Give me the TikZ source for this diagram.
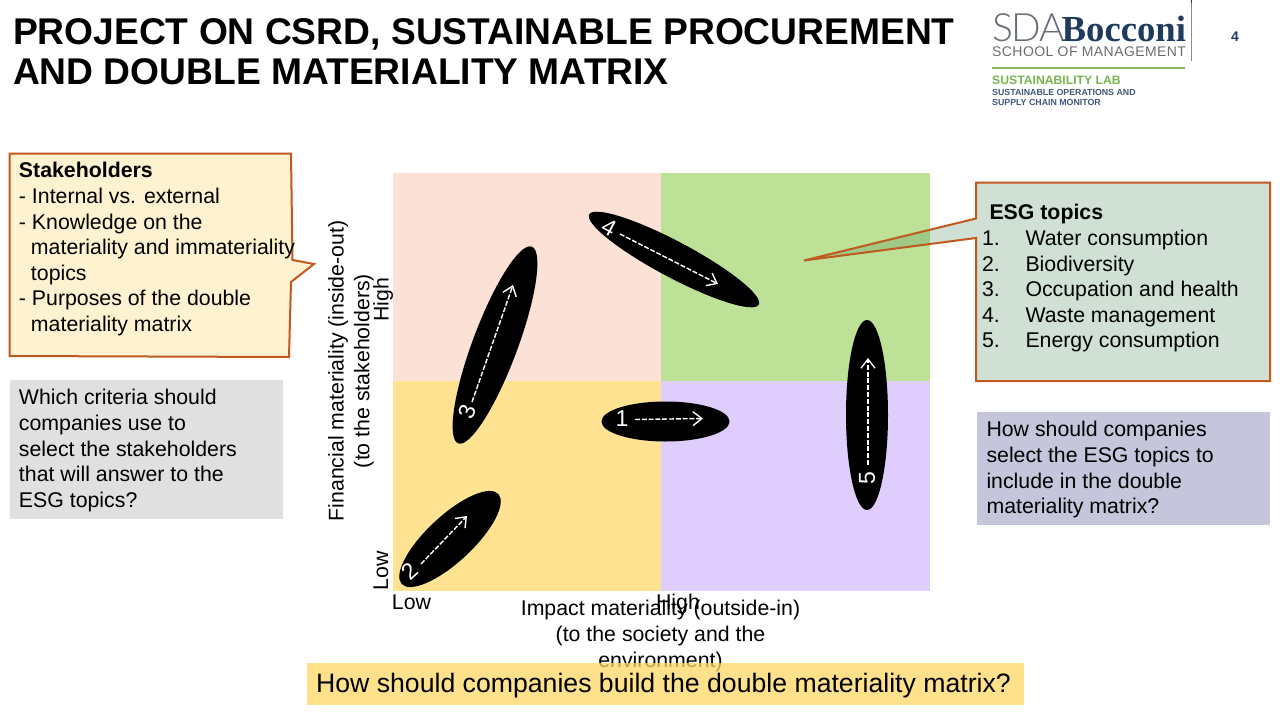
\documentclass[tikz,border=0pt]{standalone}
\usepackage{fontspec}
\setmainfont{Liberation Sans}
\newfontfamily\logoserif{Liberation Serif}
\newfontfamily\logolight[UprightFont=* Light]{Lato}
\usetikzlibrary{shapes.geometric,arrows.meta}
\definecolor{rust}{HTML}{C0581F}
\definecolor{navy}{HTML}{1F3A5F}
\newcommand{\fs}[2]{\fontsize{#1}{#2}\selectfont}
\tikzset{
  x=1pt,y=-1pt,
  body/.style={inner sep=0pt,outer sep=0pt,align=left,anchor=north west,text=black,font=\fs{21.3}{25.6}},
  axis/.style={inner sep=0pt,outer sep=0pt,align=center,text=black,font=\fs{21.3}{25.6}},
  blob/.style={ellipse,fill=black,draw=none,inner sep=0pt,outer sep=0pt},
  num/.style={inner sep=0pt,outer sep=0pt,text=white,font=\fs{23}{24}},
  flow/.style={draw=white,line width=1.4pt,dash pattern=on 5pt off 1.8pt,-{Straight Barb[length=9pt,width=14pt,line width=1.4pt]}},
  callout/.style={draw=rust,line width=2pt,line join=miter},
  cell/.style={draw=none},
  qbox/.style={draw=none},
}
\newcommand{\esgnum}[2]{\makebox[43.5pt][l]{#1}#2}
\begin{document}
\begin{tikzpicture}
\useasboundingbox (0,0) rectangle (1280,720);
% title
\node[inner sep=0pt,outer sep=0pt,anchor=north west,align=left,font=\bfseries\fs{37.2}{40}] (title) at (13,18.5) {PROJECT ON CSRD, SUSTAINABLE PROCUREMENT\\AND DOUBLE MATERIALITY MATRIX};
% logo
\node[inner sep=0pt,anchor=base west,text=gray!75!navy,font=\logolight\fs{39}{37}] (sda) at (992,41) {\addfontfeature{LetterSpace=-3}SDA};
\node[inner sep=0pt,anchor=base west,text=navy,font=\logoserif\bfseries\fs{36.7}{37}] (boc) at (1061.5,41) {Bocconi};
\node[inner sep=0pt,anchor=base west,text=gray!85!black,font=\fs{14}{14}] (som) at (992,56) {\addfontfeature{LetterSpace=3}SCHOOL OF MANAGEMENT};
\fill[fill=black!60!navy!50] (1190.5,0) rectangle (1191.5,61);
\fill[fill=navy] (1190.5,0) rectangle (1191.5,3);
\fill[fill={rgb,255:red,134;green,186;blue,90}] (992,66.5) rectangle (1185,68.5);
\node[inner sep=0pt,anchor=base west,text={rgb,255:red,120;green,180;blue,80},font=\bfseries\fs{12.2}{12}] (lab) at (992,84) {SUSTAINABILITY LAB};
\node[inner sep=0pt,anchor=base west,text=navy!85,font=\bfseries\fs{8.8}{9}] (l1) at (992,95) {SUSTAINABLE OPERATIONS AND};
\node[inner sep=0pt,anchor=base west,text=navy!85,font=\bfseries\fs{8.8}{9}] (l2) at (992,105) {SUPPLY CHAIN MONITOR};
\node[inner sep=0pt,text=navy,font=\bfseries\fs{14}{14}] (page) at (1235,37) {4};
% matrix
\fill[cell,fill={rgb,255:red,251;green,225;blue,214}] (393,173) rectangle (661,381);
\fill[cell,fill={rgb,255:red,189;green,226;blue,151}] (661,173) rectangle (930,381);
\fill[cell,fill={rgb,255:red,255;green,226;blue,146}] (393,381) rectangle (661,591);
\fill[cell,fill={rgb,255:red,223;green,206;blue,253}] (661,381) rectangle (930,591);
% axis labels
\node[axis,rotate=90] (ylab) at (351,371) {Financial materiality (inside-out)\\(to the stakeholders)};
\node[axis,rotate=90] (yhi) at (383,300) {High};
\node[axis,rotate=90] (ylo) at (381,571) {Low};
\node[axis] (xlo) at (411.5,602.5) {Low};
\node[axis] (xhi) at (678,603.5) {High};
\node[axis] (xlab) at (660.5,636) {Impact materiality (outside-in)\\(to the society and the\\environment)};
% blobs
\node[blob,minimum width=128pt,minimum height=40pt] (e1) at (665.5,421.5) {};
\node[blob,minimum width=132pt,minimum height=46pt,rotate=43] (e2) at (450,539) {};
\node[blob,minimum width=210pt,minimum height=45pt,rotate=69.5] (e3) at (495,345) {};
\node[blob,minimum width=192pt,minimum height=36pt,rotate=-28] (e4) at (674,259.5) {};
\node[blob,minimum width=190pt,minimum height=42pt,rotate=90] (e5) at (867,415) {};
\node[num] (n1) at (622,418.5) {1};
\node[num,rotate=43] (n2) at (409.5,571) {2};
\node[num,rotate=69.5] (n3) at (467,412) {3};
\node[num,rotate=-28] (n4) at (609,228) {4};
\node[num,rotate=90] (n5) at (867,478) {5};
\coordinate (a1s) at (635,419.5); \coordinate (a1e) at (703,418.5);
\coordinate (a2s) at (421,564); \coordinate (a2e) at (467,516);
\coordinate (a3s) at (472,402); \coordinate (a3e) at (513,285);
\coordinate (a4s) at (620,234); \coordinate (a4e) at (718,284);
\coordinate (a5s) at (868,465); \coordinate (a5e) at (868,358);
\draw[flow] (a1s) -- (a1e);
\draw[flow] (a2s) -- (a2e);
\draw[flow] (a3s) -- (a3e);
\draw[flow] (a4s) -- (a4e);
\draw[flow] (a5s) -- (a5e);
% stakeholders callout
\filldraw[callout,fill={rgb,255:red,255;green,242;blue,208}] (9.5,153.5) -- (291,153.5) -- (292.5,260) -- (314,264) -- (291,282) -- (289,357) -- (9.5,356) -- cycle;
\node[body] (stake) at (19,162.5) {\textbf{Stakeholders}\\- Internal vs. external\\- Knowledge on the\\\hspace*{12pt}materiality and immateriality\\\hspace*{12pt}topics\\- Purposes of the double\\\hspace*{12pt}materiality matrix};
% esg callout
\fill[fill={rgb,255:red,73;green,135;blue,88},fill opacity=.26] (976,182.5) -- (1270,182.5) -- (1270,381) -- (976,381) -- (976,238) -- (804,260.5) -- (976,218.5) -- cycle;
\draw[callout] (976,182.5) -- (1270,182.5) -- (1270,381) -- (976,381) -- (976,238) -- (804,260.5) -- (976,218.5) -- cycle;
\node[body] (esg) at (989.5,204) {\textbf{ESG topics}};
\node[body] (esgt) at (982,230) {\esgnum{1.}{Water consumption}\\\esgnum{2.}{Biodiversity}\\\esgnum{3.}{Occupation and health}\\\esgnum{4.}{Waste management}\\\esgnum{5.}{Energy consumption}};
% questions
\fill[qbox,fill={rgb,255:red,224;green,224;blue,224}] (10,380) rectangle (283,518.5);
\node[body] (q1) at (19,389.5) {Which criteria should\\companies use to\\select the stakeholders\\that will answer to the\\ESG topics?};
\fill[qbox,fill={rgb,255:red,197;green,197;blue,220}] (977,412) rectangle (1270,524.5);
\node[body] (q2) at (986.5,421.5) {How should companies\\select the ESG topics to\\include in the double\\materiality matrix?};
\fill[qbox,fill={rgb,255:red,255;green,215;blue,102},fill opacity=.75] (307,663) rectangle (1024,705);
\node[inner sep=0pt,outer sep=0pt,font=\fs{26.65}{30}] (q3) at (663.5,686) {How should companies build the double materiality matrix?};
\end{tikzpicture}
\end{document}
